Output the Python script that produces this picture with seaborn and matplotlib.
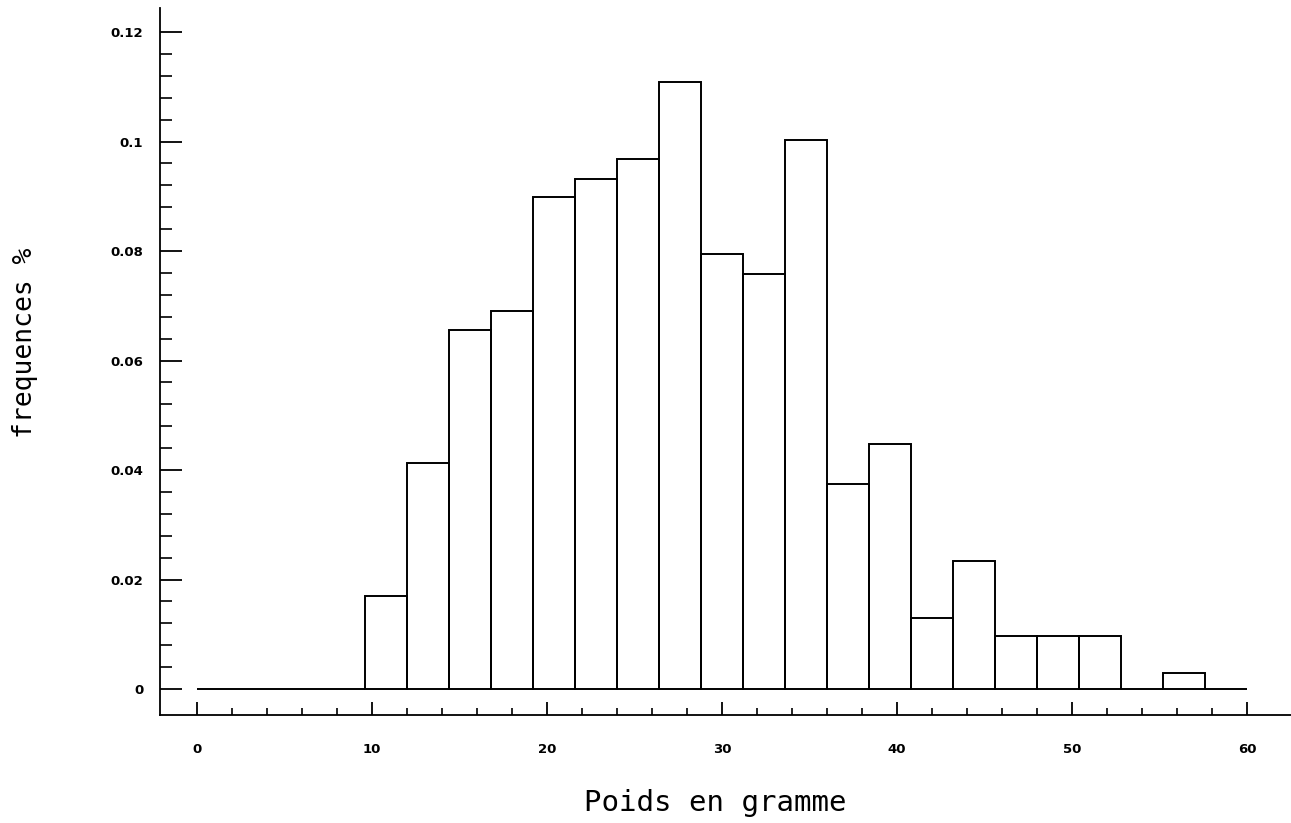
import numpy as np
import matplotlib
matplotlib.use("Agg")
import matplotlib.pyplot as plt
from matplotlib.ticker import FixedLocator, FuncFormatter
import seaborn as sns

# ---- data ----
bin_edges = [0.0, 2.4, 4.8, 7.2, 9.6, 12.0, 14.4, 16.8, 19.2, 21.6, 24.0, 26.4, 28.8,
             31.2, 33.6, 36.0, 38.4, 40.8, 43.2, 45.6, 48.0, 50.4, 52.8, 55.2, 57.6, 60.0]
frequences = [0.0, 0.0, 0.0, 0.0, 0.0170, 0.0413, 0.0656, 0.0690, 0.0899, 0.0932,
              0.0968, 0.1108, 0.0794, 0.0759, 0.1002, 0.0375, 0.0448, 0.0130, 0.0234,
              0.0097, 0.0097, 0.0097, 0.0, 0.0030, 0.0]
x_ticks = [0, 10, 20, 30, 40, 50, 60]
y_ticks = [0, 0.02, 0.04, 0.06, 0.08, 0.1, 0.12]
x_label = "Poids en gramme"
y_label = "frequences %"

centers = [(a + b) / 2 for a, b in zip(bin_edges[:-1], bin_edges[1:])]

sns.set_style("ticks")
plt.rcParams['font.family'] = ['DejaVu Sans']
plt.rcParams['text.color'] = 'black'
plt.rcParams['axes.labelcolor'] = 'black'
plt.rcParams['xtick.color'] = 'black'
plt.rcParams['ytick.color'] = 'black'
plt.rcParams['axes.edgecolor'] = 'black'

fig = plt.figure(figsize=(12.91, 8.23), dpi=100)
ax = fig.add_axes([160 / 1291, 1 - 715 / 823, 1131 / 1291, 707 / 823])

sns.histplot(x=centers, weights=frequences, bins=bin_edges, stat="count",
             fill=False, color="black", linewidth=1.4, element="bars", ax=ax)

ax.set_xlim(-2.11, 62.5)
ax.set_ylim(-0.00475, 0.1244)

ax.spines['top'].set_visible(False)
ax.spines['right'].set_visible(False)
ax.spines['left'].set_linewidth(1.3)
ax.spines['bottom'].set_linewidth(1.3)

ax.set_xticks(x_ticks)
ax.set_yticks(y_ticks)
x_minor = [v for v in np.arange(0, 61, 2) if v % 10 != 0]
y_minor = [v for v in np.round(np.arange(0, 0.1201, 0.004), 4) if round(v / 0.02, 6) % 1 != 0]
ax.xaxis.set_minor_locator(FixedLocator(x_minor))
ax.yaxis.set_minor_locator(FixedLocator(y_minor))
ax.yaxis.set_major_formatter(FuncFormatter(lambda v, p: "0" if abs(v) < 1e-12 else f"{v:g}"))

ax.tick_params(axis='y', which='major', direction='in', length=16, width=1.3, pad=12,
               labelsize=9.5, colors='black')
ax.tick_params(axis='y', which='minor', direction='in', length=8.5, width=1.2, colors='black')
ax.tick_params(axis='x', which='major', direction='in', length=9.5, width=1.3, pad=20,
               labelsize=9.5, colors='black')
ax.tick_params(axis='x', which='minor', direction='in', length=5, width=1.2, colors='black')
for lab in ax.get_xticklabels() + ax.get_yticklabels():
    lab.set_fontweight('bold')

ax.set_xlabel(x_label, fontsize=21, family='DejaVu Sans Mono', color='black')
ax.xaxis.set_label_coords(0.491, -0.105)
ax.set_ylabel(y_label, fontsize=19, family='DejaVu Sans Mono', color='black')
ax.yaxis.set_label_coords(-0.119, 0.526)
ax.yaxis.label.set_va('center')

fig.savefig("out.png", dpi=100)
